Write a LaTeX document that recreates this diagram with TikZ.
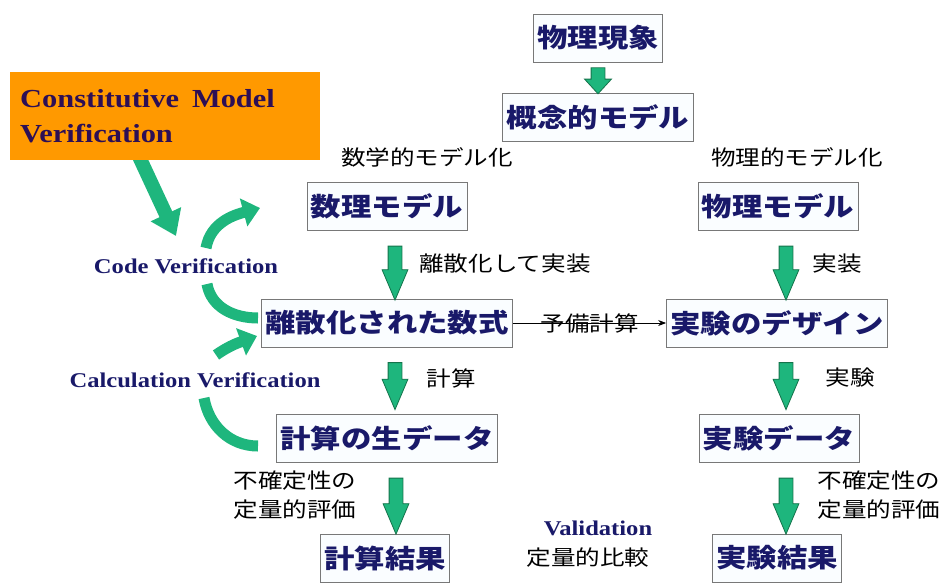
\documentclass[tikz,border=0pt]{standalone}
\usepackage{fontspec}
\setmainfont[FakeStretch=1.17]{Liberation Serif}
\newfontfamily\jp[FakeStretch=1.17]{Noto Sans CJK JP}
\usetikzlibrary{shapes.arrows,arrows.meta,calc}
\definecolor{navy}{RGB}{25,25,105}
\definecolor{cmvtext}{RGB}{45,15,85}
\definecolor{agreen}{RGB}{30,182,125}
\definecolor{dgreen}{RGB}{20,115,75}
\definecolor{orng}{RGB}{255,153,0}
\definecolor{boxedge}{RGB}{120,120,120}
\tikzset{
 box/.style={draw=boxedge, line width=0.8pt, fill={rgb,255:red,250;green,253;blue,255}, inner xsep=4pt, inner ysep=0pt, minimum height=48pt, font=\jp\bfseries\fontsize{26}{30}\selectfont, text=navy},
 lbl/.style={font=\jp\fontsize{21}{29}\selectfont, text=black, inner sep=0pt, align=left},
 eng/.style={font=\bfseries\fontsize{21}{24}\selectfont, text=navy, inner sep=0pt},
 barrow/.style={single arrow, draw=dgreen, fill=agreen, line width=0.8pt, rotate=-90, inner xsep=0pt, inner ysep=6.5pt, single arrow head extend=6pt, single arrow head indent=0pt, single arrow tip angle=46, minimum height=54pt},
 carrow/.style={draw=agreen, line width=11pt, -{Triangle[width=28pt,length=17pt]}},
 cband/.style={draw=agreen, line width=11pt},
}
\begin{document}
\begin{tikzpicture}[x=1pt,y=-1pt]
\useasboundingbox (0,0) rectangle (947,582);
% curved arrows (drawn first)
\coordinate (c1s) at (136,150);
\coordinate (c1e) at (176,236);
\draw[draw=agreen, line width=14pt, -{Triangle[width=32pt,length=24pt]}] (c1s) -- (c1e);
% orange box
\node[fill=orng, text width=290pt, inner xsep=10pt, minimum height=88pt, align=left, anchor=north west, font=\bfseries\fontsize{26}{35}\selectfont, text=cmvtext] (cmv) at (10,72) {Constitutive\hspace{0.5em}Model\\Verification};
% boxes
\node[box] (phen) at (598,38) {物理現象};
\node[box] (concept) at (598,117) {概念的モデル};
\node[box] (math) at (387,206) {数理モデル};
\node[box] (phys) at (778,206) {物理モデル};
\node[box] (disc) at (387,323) {離散化された数式};
\node[box] (design) at (777,323) {実験のデザイン};
\node[box] (raw) at (387,438) {計算の生データ};
\node[box] (expd) at (779,438) {実験データ};
\node[box] (cres) at (385,558) {計算結果};
\node[box] (eres) at (777,558) {実験結果};
% block arrows
\node[barrow, minimum height=26pt, inner ysep=6.5pt, single arrow head extend=6.5pt, single arrow tip angle=85] (a0) at (598,77) {};
\node[barrow] (a1) at (395,265) {};
\node[barrow] (a2) at (786,265) {};
\node[barrow, minimum height=47pt] (a3) at (395,378) {};
\node[barrow, minimum height=47pt] (a4) at (786,378) {};
\node[barrow, minimum height=56pt] (a5) at (396,498) {};
\node[barrow, minimum height=56pt] (a6) at (786,498) {};
% labels
\node[lbl] (l1) at (427,157) {数学的モデル化};
\node[lbl] (l2) at (797,157) {物理的モデル化};
\node[lbl] (l3) at (505,264) {離散化して実装};
\node[lbl] (l4) at (837,264) {実装};
\node[lbl] (l5) at (451,378) {計算};
\node[lbl] (l6) at (850,378) {実験};
\node[lbl] (l7) at (295,495) {不確定性の\\定量的評価};
\node[lbl] (l8) at (879,495) {不確定性の\\定量的評価};
\node[eng] (val) at (598,528) {Validation};
\node[lbl] (l9) at (588,558) {定量的比較};
\node[eng] (cv) at (186,266) {Code Verification};
\node[eng] (calv) at (195,380) {Calculation Verification};
% preliminary calculation connector
\draw[line width=0.8pt, -{Stealth[length=8pt,width=6pt]}] (disc.east) -- node[lbl, midway] {予備計算} (design.west);
% curved verification arrows
\coordinate (c2s) at (206,248);
\coordinate (c2e) at (260,208);
\draw[carrow] (c2s) to[out=80,in=195] (c2e);
\coordinate (c3s) at (207,284);
\coordinate (c3e) at (258,318);
\draw[cband] (c3s) to[out=-80,in=180] (c3e);
\coordinate (c4s) at (216,355);
\coordinate (c4e) at (257,336);
\draw[carrow] (c4s) to[out=35,in=200] (c4e);
\coordinate (c5s) at (204,398);
\coordinate (c5e) at (258,446);
\draw[cband] (c5s) to[out=-80,in=180] (c5e);
\end{tikzpicture}
\end{document}
